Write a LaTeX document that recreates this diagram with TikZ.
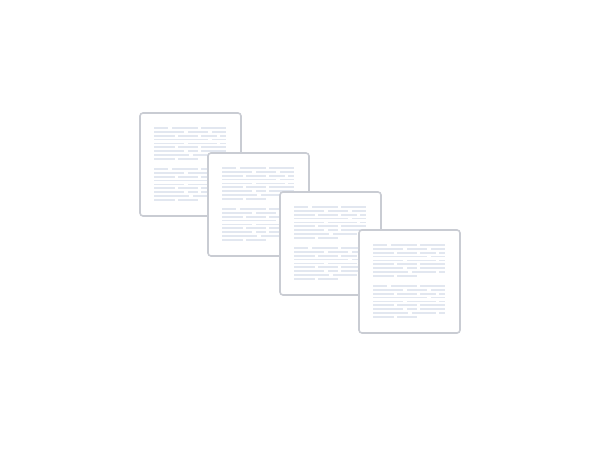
\documentclass[tikz,border=0pt]{standalone}
\usetikzlibrary{calc}

\definecolor{pageedge}{HTML}{C9CCD3}
\definecolor{inkline}{HTML}{E2E7F0}

\begin{document}
\begin{tikzpicture}[x=1pt,y=-1pt,
  page/.style={draw=pageedge,line width=1.6pt,fill=white,rounded corners=3pt,
    minimum width=101pt,minimum height=103pt,anchor=north west,inner sep=0pt,outer sep=0pt},
  textline/.style={inkline,line width=1.6pt}]
  \useasboundingbox (0,0) rectangle (600,450);

  % stacked pages, each one over the one before
  \foreach \n/\px/\py in {1/140/113, 2/208/153, 3/280/192, 4/359/230} {
    \node[page] (page\n) at (\px,\py) {};
    \foreach \top in {15,56} {
      \foreach \row/\segs in {0/{0/14,18/44,47/72}, 1/{0/30,34/54,58/72},
          2/{0/21,24/44,47/63,66/72}, 3/{0/54,58/72}, 4/{0/30,34/63,66/72},
          5/{0/21,24/44,47/72}, 6/{0/30,34/44,47/72}, 7/{0/35,39/63,66/72},
          8/{0/21,24/44}} {
        \foreach \a/\b in \segs
          \draw[textline] ($ (page\n.north west) + (14+\a,\top+3.85*\row) $)
            -- ($ (page\n.north west) + (14+\b,\top+3.85*\row) $);
      }
    }
  }
\end{tikzpicture}
\end{document}
